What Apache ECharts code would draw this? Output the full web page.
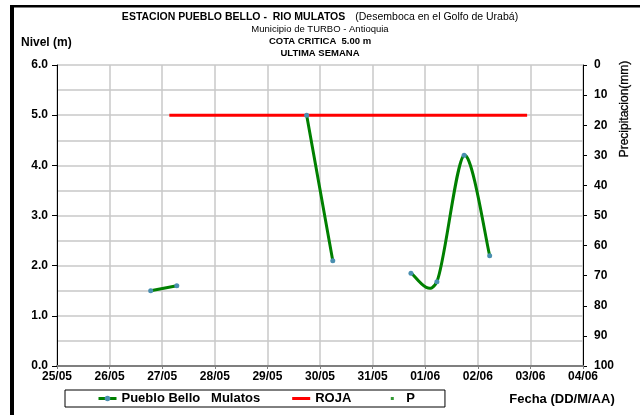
<!DOCTYPE html>
<html>
<head>
<meta charset="utf-8">
<script src="https://cdn.jsdelivr.net/npm/echarts@6/dist/echarts.min.js"></script>
<style>html,body{margin:0;padding:0;background:#fff;}#c{width:640px;height:415px;}</style>
</head>
<body>
<div id="c"></div>
<script>
// ---- data ----
var baseDate = '05-25 00:00';
var xTickLabels = ['25/05','26/05','27/05','28/05','29/05','30/05','31/05','01/06','02/06','03/06','04/06'];
var levelTimes = ['05-26 18:45','05-27 06:40', null, '05-29 17:55','05-30 05:50', null, '05-31 17:30','06-01 05:20','06-01 17:45','06-02 05:25'];
var levelValues = [1.5, 1.6, null, 5.0, 2.1, null, 1.85, 1.68, 4.2, 2.2];
var rojaTimes = ['05-27 03:15','06-02 22:30'];
var rojaValues = [5.0, 5.0];
var precipTimes = [];
var precipValues = [];
var leftTicks = [0, 6, 1];
var rightTicks = [0, 100, 10];

function toDays(s){
  var m = s.match(/(\d+)-(\d+) (\d+):(\d+)/);
  var b = baseDate.match(/(\d+)-(\d+) (\d+):(\d+)/);
  var d1 = Date.UTC(2000, +m[1]-1, +m[2], +m[3], +m[4]);
  var d0 = Date.UTC(2000, +b[1]-1, +b[2], +b[3], +b[4]);
  return (d1 - d0) / 86400000;
}
function pairs(ts, vs){
  return ts.map(function(t,i){ return t === null ? [null, null] : [toDays(t), vs[i]]; });
}
// split the level series into continuous segments (Excel-style smoothed lines)
var levelPairs = pairs(levelTimes, levelValues);
var segments = [];
var cur = [];
levelPairs.forEach(function(p){
  if (p[0] === null) { if (cur.length) segments.push(cur); cur = []; }
  else cur.push(p);
});
if (cur.length) segments.push(cur);

function smoothPath(pts){
  var k = 1 / 6.5;
  var d = 'M' + pts[0][0] + ',' + pts[0][1];
  for (var i = 0; i < pts.length - 1; i++) {
    var p0 = pts[Math.max(i - 1, 0)], p1 = pts[i], p2 = pts[i + 1], p3 = pts[Math.min(i + 2, pts.length - 1)];
    var c1x = p1[0] + (p2[0] - p0[0]) * k, c1y = p1[1] + (p2[1] - p0[1]) * k;
    var c2x = p2[0] - (p3[0] - p1[0]) * k, c2y = p2[1] - (p3[1] - p1[1]) * k;
    d += 'C' + c1x + ',' + c1y + ',' + c2x + ',' + c2y + ',' + p2[0] + ',' + p2[1];
  }
  return d;
}

var font = 'Liberation Sans, Arial, sans-serif';
var green = '#008000';
var chart = echarts.init(document.getElementById('c'), null, {renderer:'canvas'});
chart.setOption({
  animation: false,
  backgroundColor: '#fff',
  textStyle: {fontFamily: font},
  title: {
    left: 'center', top: 11, padding: 0,
    text: '{b|ESTACION PUEBLO BELLO -  RIO MULATOS}  {p|(Desemboca en el Golfo de Urabá)}\n{n|Municipio de TURBO - Antioquia}\n{c|COTA CRITICA  5.00 m}\n{c|ULTIMA SEMANA}',
    textStyle: {
      fontFamily: font, lineHeight: 12, fontWeight: 'normal',
      rich: {
        b: {fontFamily: font, fontSize: 10.5, fontWeight: 'bold', color: '#000', lineHeight: 12},
        p: {fontFamily: font, fontSize: 10.5, fontWeight: 'normal', color: '#000', lineHeight: 12},
        n: {fontFamily: font, fontSize: 9.5, fontWeight: 'normal', color: '#000', lineHeight: 12},
        c: {fontFamily: font, fontSize: 9.5, fontWeight: 'bold', color: '#000', lineHeight: 12}
      }
    }
  },
  grid: {left: 57, right: 57, top: 65, bottom: 49, containLabel: false},
  legend: {
    left: 65, top: 390,
    orient: 'horizontal',
    borderColor: '#000', borderWidth: 1, borderRadius: 0,
    padding: [2, 30, 2, 32],
    itemWidth: 18, itemHeight: 7, itemGap: 32,
    textStyle: {fontFamily: font, fontSize: 13, fontWeight: 'bold', color: '#000', padding: [3, 0, 0, 0]},
    data: [
      {name: 'Pueblo Bello   Mulatos', lineStyle: {color: green, width: 3, opacity: 1}},
      {name: 'ROJA', icon: 'path://M0,0L18,0L18,3L0,3Z', itemStyle: {color: '#ff0000'}},
      {name: 'P', icon: 'path://M0,0L0.01,0M7.5,2L10.5,2L10.5,5L7.5,5ZM18,7L18.01,7', itemStyle: {color: green}}
    ]
  },
  graphic: [
    {type: 'rect', shape: {x: 10, y: 5, width: 4, height: 410}, style: {fill: '#000'}},
    {type: 'rect', shape: {x: 10, y: 5, width: 630, height: 2.5}, style: {fill: '#000'}},
    {type: 'text', left: 21, top: 37, style: {text: 'Nivel (m)', font: 'bold 12px ' + font, fill: '#000'}},
    {type: 'text', x: 562, y: 399, style: {text: 'Fecha (DD/M/AA)', font: 'bold 13px ' + font, fill: '#000', align: 'center', verticalAlign: 'middle'}},
    {type: 'text', x: 625, y: 109, rotation: Math.PI / 2, style: {text: 'Precipitacion(mm)', font: '12px ' + font, fill: '#000', stroke: '#000', lineWidth: 0.3, align: 'center', verticalAlign: 'middle'}}
  ],
  xAxis: {
    type: 'value', min: 0, max: xTickLabels.length - 1, interval: 1,
    axisLine: {show: true, onZero: false, lineStyle: {color: '#7f7f7f', width: 2}},
    axisTick: {show: true, length: 3, lineStyle: {color: '#7f7f7f'}},
    axisLabel: {fontFamily: font, fontSize: 12, fontWeight: 'bold', color: '#000', margin: 5,
      formatter: function(v){ return xTickLabels[Math.round(v)] || ''; }},
    splitLine: {show: true, lineStyle: {color: '#c8c8c8', width: 1.5}}
  },
  yAxis: [
    {
      type: 'value', min: leftTicks[0], max: leftTicks[1], interval: leftTicks[2], position: 'left',
      axisLine: {show: true, lineStyle: {color: '#000', width: 1}},
      axisTick: {show: true, length: 5, lineStyle: {color: '#000'}},
      axisLabel: {fontFamily: font, fontSize: 12, fontWeight: 'bold', color: '#000', margin: 9,
        formatter: function(v){ return v.toFixed(1); }},
      splitLine: {show: true, lineStyle: {color: '#c8c8c8', width: 1.5}},
      minorTick: {show: false, splitNumber: 2},
      minorSplitLine: {show: true, lineStyle: {color: '#c8c8c8', width: 1.5}}
    },
    {
      type: 'value', min: rightTicks[0], max: rightTicks[1], interval: rightTicks[2], position: 'right', inverse: true,
      axisLine: {show: true, lineStyle: {color: '#000', width: 1}},
      axisTick: {show: true, length: 4, lineStyle: {color: '#000'}},
      axisLabel: {fontFamily: font, fontSize: 12, fontWeight: 'bold', color: '#000', margin: 11},
      splitLine: {show: false}
    }
  ],
  series: [
    {
      name: 'Pueblo Bello   Mulatos', type: 'line', yAxisIndex: 0,
      data: levelPairs,
      connectNulls: false,
      symbol: 'circle', symbolSize: 5, showSymbol: true,
      lineStyle: {color: green, width: 3, opacity: 0},
      itemStyle: {color: '#4a8fb0', borderWidth: 0},
      z: 4
    },
    {
      name: 'Pueblo Bello   Mulatos', type: 'custom', yAxisIndex: 0,
      data: segments.map(function(s){ return s[0]; }),
      encode: {x: 0, y: 1},
      renderItem: function(params, api){
        var seg = segments[params.dataIndex];
        var pts = seg.map(function(p){ return api.coord(p); });
        return {type: 'path', shape: {pathData: smoothPath(pts)},
          style: {fill: 'none', stroke: green, lineWidth: 3}};
      },
      z: 3
    },
    {
      name: 'ROJA', type: 'line', yAxisIndex: 0,
      data: pairs(rojaTimes, rojaValues),
      symbol: 'none',
      lineStyle: {color: '#ff0000', width: 3},
      itemStyle: {color: '#ff0000'},
      z: 2
    },
    {
      name: 'P', type: 'scatter', yAxisIndex: 1,
      data: pairs(precipTimes, precipValues),
      symbol: 'rect', symbolSize: 3,
      itemStyle: {color: green}
    }
  ]
});
</script>
</body>
</html>
